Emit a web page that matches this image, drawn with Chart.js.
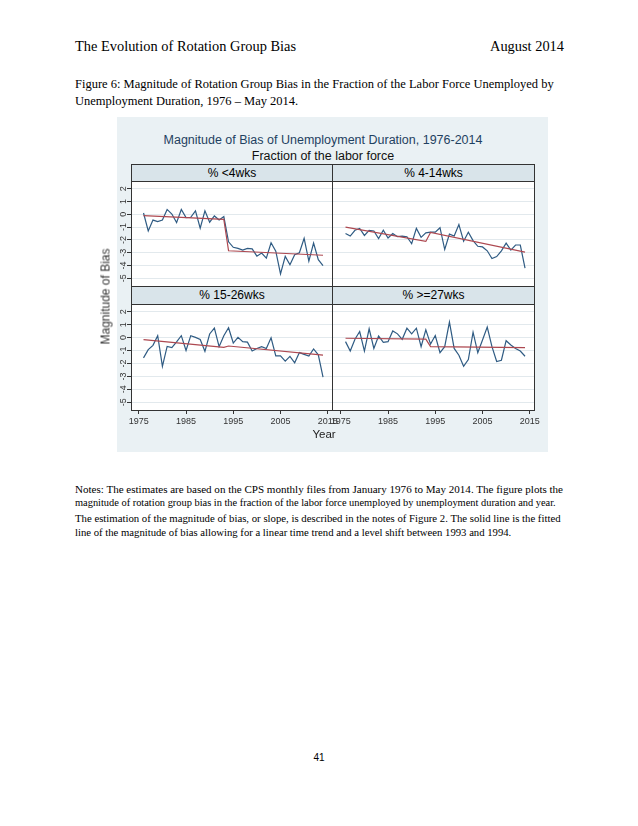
<!DOCTYPE html>
<html><head><meta charset="utf-8">
<script src="https://cdn.jsdelivr.net/npm/chart.js@4.4.0/dist/chart.umd.min.js"></script>
<style>
body{margin:0;width:638px;height:826px;background:#fff;position:relative;overflow:hidden;font-family:"Liberation Serif","Times New Roman",serif;color:#000}
.t{position:absolute;white-space:nowrap}
.sans{font-family:"Liberation Sans",Arial,sans-serif}
.box{position:absolute;box-sizing:border-box;border:1px solid #333;z-index:3}
.strip{position:absolute;box-sizing:border-box;background:#d9e4ea;border:1px solid #333;z-index:3;font-family:"Liberation Sans",Arial,sans-serif;font-size:12px;text-align:center;color:#000}
.plot{position:absolute;background:#fff;z-index:1}
.note{position:absolute;left:75px;white-space:nowrap;line-height:14.4px}
canvas{position:absolute;z-index:2}
</style></head><body>
<div class="t" style="left:75px;top:38px;font-size:14.4px;line-height:16px">The Evolution of Rotation Group Bias</div>
<div class="t" style="right:74px;top:38px;font-size:14.4px;line-height:16px">August 2014</div>
<div class="t" style="left:75px;top:75.5px;font-size:12.5px;line-height:17px">Figure 6: Magnitude of Rotation Group Bias in the Fraction of the Labor Force Unemployed by<br>Unemployment Duration, 1976 – May 2014.</div>

<div style="position:absolute;left:117px;top:117px;width:431px;height:335px;background:#eaf1f4;z-index:0"></div>
<div class="t sans" style="left:123px;width:400px;text-align:center;top:132.5px;font-size:12.5px;line-height:15px;color:#1f4161;z-index:3">Magnitude of Bias of Unemployment Duration, 1976-2014</div>
<div class="t sans" style="left:123px;width:400px;text-align:center;top:148.5px;font-size:12.5px;line-height:15px;color:#111;z-index:3">Fraction of the labor force</div>

<div class="plot" style="left:131px;top:181px;width:403px;height:230px"></div>

<div class="box" style="left:131px;top:164px;width:202px;height:123px"></div>
<div class="box" style="left:332px;top:164px;width:203px;height:123px"></div>
<div class="box" style="left:131px;top:286px;width:202px;height:125px"></div>
<div class="box" style="left:332px;top:286px;width:203px;height:125px"></div>
<div class="strip" style="left:131px;top:164px;width:202px;height:18px;line-height:16px" id="s1"></div>
<div class="strip" style="left:332px;top:164px;width:203px;height:18px;line-height:16px" id="s2"></div>
<div class="strip" style="left:131px;top:286px;width:202px;height:19px;line-height:17px" id="s3"></div>
<div class="strip" style="left:332px;top:286px;width:203px;height:19px;line-height:17px" id="s4"></div>

<canvas id="c1" width="233" height="105" style="left:100px;top:181px;width:233px;height:105px"></canvas>
<canvas id="c2" width="202" height="105" style="left:333px;top:181px;width:202px;height:105px"></canvas>
<canvas id="c3" width="260" height="136" style="left:100px;top:304px;width:260px;height:136px"></canvas>
<canvas id="c4" width="240" height="136" style="left:313px;top:304px;width:240px;height:136px"></canvas>

<div class="t sans" style="left:6px;width:200px;text-align:center;top:288.5px;line-height:15px;font-size:12px;color:#333;transform:rotate(-90deg);z-index:3">Magnitude of Bias</div>
<div class="t sans" style="left:274px;width:100px;text-align:center;top:427px;line-height:14px;font-size:11.5px;color:#222;z-index:3">Year</div>

<div class="note" style="top:481.8px;font-size:11.05px">Notes: The estimates are based on the CPS monthly files from January 1976 to May 2014. The figure plots the</div>
<div class="note" style="top:496.2px;font-size:10.4px">magnitude of rotation group bias in the fraction of the labor force unemployed by unemployment duration and year.</div>
<div class="note" style="top:510.6px;font-size:10.75px">The estimation of the magnitude of bias, or slope, is described in the notes of Figure 2. The solid line is the fitted</div>
<div class="note" style="top:525px;font-size:10.7px">line of the magnitude of bias allowing for a linear time trend and a level shift between 1993 and 1994.</div>
<div class="t sans" style="left:269px;width:100px;text-align:center;top:752px;font-size:10px;line-height:12px">41</div>

<script>
const panelTitles = ["% <4wks", "% 4-14wks", "% 15-26wks", "% >=27wks"];
const years = [1976,1977,1978,1979,1980,1981,1982,1983,1984,1985,1986,1987,1988,1989,1990,1991,1992,1993,1994,1995,1996,1997,1998,1999,2000,2001,2002,2003,2004,2005,2006,2007,2008,2009,2010,2011,2012,2013,2014];
const biasLt4 = [0.1,-1.3,-0.45,-0.57,-0.45,0.38,0.02,-0.65,0.38,-0.26,-0.23,0.27,-1.08,0.27,-0.62,-0.13,-0.44,-0.18,-2.15,-2.58,-2.66,-2.8,-2.66,-2.7,-3.27,-3.03,-3.42,-2.22,-2.88,-4.65,-3.29,-3.94,-3.16,-3.0,-1.88,-3.65,-2.25,-3.55,-4.0];
const bias4to14 = [-1.5,-1.7,-1.25,-1.1,-1.65,-1.25,-1.3,-1.9,-1.25,-1.85,-1.5,-1.75,-1.7,-1.75,-2.3,-1.1,-1.8,-1.45,-1.4,-1.4,-1.05,-2.75,-1.55,-1.7,-0.8,-2.1,-1.4,-2.05,-2.5,-2.55,-2.85,-3.45,-3.3,-2.85,-2.25,-2.8,-2.4,-2.4,-4.2];
const bias15to26 = [-1.57,-0.93,-0.6,0.15,-2.22,-0.68,-0.77,-0.33,0.15,-1.0,0.15,0.02,-0.14,-1.06,0.28,0.73,-0.7,0.15,0.76,-0.42,0.02,-0.31,-0.35,-1.03,-0.84,-0.7,-0.84,-0.02,-1.42,-1.42,-1.82,-1.45,-1.95,-1.16,-1.3,-1.42,-0.88,-1.33,-3.05];
const bias27plus = [-0.31,-1.04,-0.13,0.47,-1.04,0.68,-0.84,0.13,-0.37,-0.31,0.52,0.29,-0.13,0.73,0.29,0.73,-0.7,0.6,-0.5,0.16,-1.17,-0.7,1.2,-0.84,-1.36,-2.22,-1.7,0.42,-1.17,-0.18,0.81,-0.7,-1.85,-1.75,-0.24,-0.57,-0.84,-1.04,-1.44];
const fitYears = [1976, 1993, 1994, 2014];
const fitLt4 = [-0.1, -0.4, -2.85, -3.2];
const fit4to14 = [-1.0, -2.12, -1.42, -2.95];
const fit15to26 = [-0.15, -0.75, -0.65, -1.35];
const fit27plus = [-0.05, -0.12, -0.7, -0.78];
const xTicks = [1975, 1985, 1995, 2005, 2015];
const yTicks = [-5, -4, -3, -2, -1, 0, 1, 2];

panelTitles.forEach((t, i) => { document.getElementById('s' + (i + 1)).textContent = t; });

const BLUE = '#2f5b83', RED = '#ad4850', GRID = '#e2e9ed', TICK = '#333';
const FONT = '"Liberation Sans", Arial, sans-serif';

const rotY = {
  id: 'rotY',
  afterDraw(chart, args, opts) {
    if (!opts.show) return;
    const s = chart.scales.y, ctx = chart.ctx;
    ctx.save();
    ctx.font = '9px ' + FONT;
    ctx.fillStyle = TICK;
    ctx.textAlign = 'center';
    ctx.textBaseline = 'bottom';
    s.ticks.forEach(tk => {
      const y = s.getPixelForValue(tk.value);
      ctx.save();
      ctx.translate(s.right - 3, y);
      ctx.rotate(-Math.PI / 2);
      ctx.fillText(String(tk.value), 0, 0);
      ctx.restore();
    });
    ctx.restore();
  }
};

function makeChart(id, series, fit, cfg) {
  new Chart(document.getElementById(id), {
    type: 'line',
    data: {
      datasets: [
        { data: fitYears.map((x, i) => ({ x, y: fit[i] })), borderColor: RED, borderWidth: 1.2, pointRadius: 0, tension: 0 },
        { data: years.map((x, i) => ({ x, y: series[i] })), borderColor: BLUE, borderWidth: 1.2, pointRadius: 0, tension: 0 }
      ]
    },
    options: {
      responsive: false, animation: false,
      layout: { padding: cfg.pad },
      plugins: { legend: { display: false }, tooltip: { enabled: false }, rotY: { show: cfg.showY } },
      scales: {
        x: {
          type: 'linear', min: 1973.35, max: 2015.9, display: cfg.showX,
          afterBuildTicks: s => { s.ticks = xTicks.map(v => ({ value: v })); },
          grid: { display: true, drawOnChartArea: false, drawTicks: true, tickLength: 4, tickColor: TICK, color: TICK },
          border: { display: false },
          ticks: { font: { size: 9, family: FONT }, color: TICK, padding: 2, maxRotation: 0, minRotation: 0, autoSkip: false, callback: v => String(v) },
          afterFit: s => { s.height = cfg.showX ? 30 : 0; }
        },
        y: {
          type: 'linear', min: -5.6, max: 2.6,
          afterBuildTicks: s => { s.ticks = yTicks.map(v => ({ value: v })); },
          grid: { color: GRID, lineWidth: 1, drawTicks: cfg.showY, tickLength: 4, tickColor: TICK },
          border: { display: false },
          ticks: { display: false },
          afterFit: s => { s.width = cfg.yw; }
        }
      }
    },
    plugins: [rotY]
  });
}

makeChart('c1', biasLt4, fitLt4, { pad: { left: 0, right: 1, top: 0, bottom: 0 }, yw: 31, showX: false, showY: true });
makeChart('c2', bias4to14, fit4to14, { pad: { left: 0, right: 1, top: 0, bottom: 0 }, yw: 0, showX: false, showY: false });
makeChart('c3', bias15to26, fit15to26, { pad: { left: 0, right: 28, top: 0, bottom: 0 }, yw: 31, showX: true, showY: true });
makeChart('c4', bias27plus, fit27plus, { pad: { left: 20, right: 19, top: 0, bottom: 0 }, yw: 0, showX: true, showY: false });
</script>
</body></html>
